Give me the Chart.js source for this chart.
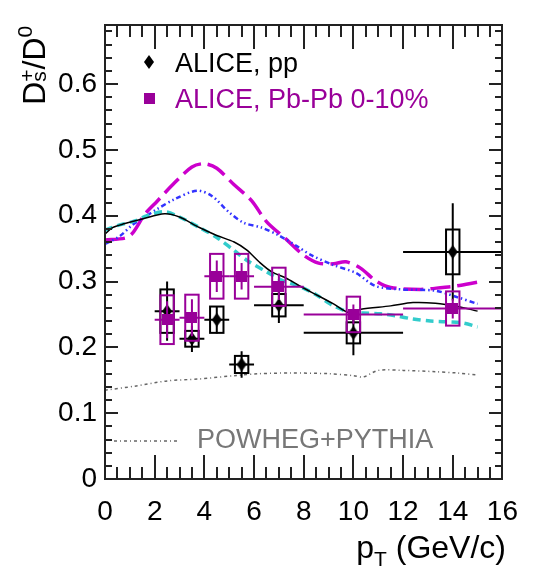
<!DOCTYPE html>
<html>
<head>
<meta charset="utf-8">
<script src="https://cdn.jsdelivr.net/npm/chart.js@4.4.0/dist/chart.umd.min.js"></script>
<style>
  html, body { margin: 0; padding: 0; background: #fff; }
  #wrap { width: 534px; height: 569px; }
</style>
</head>
<body>
<div id="wrap"><canvas id="ratioChart" width="534" height="569"></canvas></div>
<script>
const FONT = "'Liberation Sans', Arial, Helvetica, sans-serif";

// pT bins (GeV/c)
const binCenters = [2.5, 3.5, 4.5, 5.5, 7, 10, 14];
const binLow = [2, 3, 4, 5, 6, 8, 12];
const binHigh = [3, 4, 5, 6, 8, 12, 16];

// ALICE pp
const ppRatio = [0.255, 0.213, 0.242, 0.174, 0.264, 0.222, 0.345];
const ppStat = [0.045, 0.020, 0.021, 0.020, 0.027, 0.034, 0.074];
const ppSyst = [0.033, 0.012, 0.020, 0.013, 0.017, 0.016, 0.034];

// ALICE Pb-Pb 0-10%
const pbRatio = [0.242, 0.245, 0.308, 0.308, 0.292, 0.250, 0.259];
const pbStat = [0.028, 0.028, 0.024, 0.020, 0.020, 0.015, 0.015];
const pbSyst = [0.037, 0.035, 0.034, 0.034, 0.029, 0.027, 0.026];

// model curves
const blackX = [0, 0.3, 0.8, 1.5, 2.4, 3.0, 3.8, 4.5, 5.2, 5.7, 6.2, 6.7, 7.3, 7.8, 8.3, 9.2, 9.8, 10.3, 11.5, 12.4, 13.3, 14.2, 15];
const blackY = [0.372, 0.382, 0.388, 0.395, 0.403, 0.398, 0.382, 0.370, 0.360, 0.348, 0.330, 0.315, 0.305, 0.294, 0.284, 0.266, 0.253, 0.258, 0.263, 0.268, 0.267, 0.262, 0.255];

const cyanX = [0, 0.5, 1.2, 1.7, 2.4, 3.0, 3.8, 4.5, 5.2, 5.8, 6.5, 7.1, 7.8, 8.5, 9.1, 9.8, 10.4, 11.1, 11.7, 12.4, 13.1, 13.7, 14.4, 15];
const cyanY = [0.378, 0.385, 0.392, 0.400, 0.406, 0.398, 0.382, 0.367, 0.347, 0.330, 0.315, 0.302, 0.293, 0.280, 0.265, 0.254, 0.252, 0.251, 0.248, 0.243, 0.240, 0.239, 0.237, 0.231];

const blueX = [0, 0.6, 1.1, 1.6, 2.1, 2.8, 3.7, 4.3, 5.0, 5.6, 6.3, 7.0, 7.8, 8.3, 9.2, 10.1, 10.9, 12.0, 13.3, 14.2, 15];
const blueY = [0.357, 0.369, 0.386, 0.398, 0.410, 0.425, 0.438, 0.430, 0.405, 0.389, 0.382, 0.370, 0.352, 0.340, 0.325, 0.313, 0.293, 0.288, 0.286, 0.276, 0.266];

const magentaX = [0, 0.8, 1.1, 1.6, 2.1, 2.8, 3.5, 4.0, 4.5, 5.2, 5.9, 6.5, 7.3, 8.0, 8.6, 9.2, 9.7, 10.3, 10.9, 11.5, 12.7, 13.6, 14.1, 15];
const magentaY = [0.363, 0.366, 0.373, 0.402, 0.422, 0.450, 0.474, 0.479, 0.472, 0.447, 0.423, 0.391, 0.364, 0.340, 0.328, 0.327, 0.330, 0.320, 0.301, 0.291, 0.288, 0.291, 0.293, 0.299];

const powhegX = [0, 1.2, 2.5, 3.8, 5.2, 6.2, 7.5, 9.0, 10.0, 10.4, 11.0, 12.0, 13.3, 14.2, 15];
const powhegY = [0.135, 0.141, 0.149, 0.152, 0.157, 0.160, 0.161, 0.160, 0.157, 0.155, 0.165, 0.165, 0.163, 0.161, 0.158];

const xTickStep = 2, xMinorStep = 0.5;
const yTickStep = 0.1, yMinorStep = 0.02;

const PURPLE = '#990099';
const BOX_HALF = 0.27; // half width of syst. boxes, in GeV/c

function toPoints(xs, ys) {
    return xs.map((x, i) => ({ x: x, y: ys[i] }));
}

// marker images
function makeDiamond() {
    const c = document.createElement('canvas');
    c.width = 10; c.height = 14;
    const g = c.getContext('2d');
    g.fillStyle = '#000';
    g.beginPath();
    g.moveTo(5, 0); g.lineTo(10, 7); g.lineTo(5, 14); g.lineTo(0, 7);
    g.closePath();
    g.fill();
    return c;
}
function makeSquare() {
    const c = document.createElement('canvas');
    c.width = 11; c.height = 11;
    const g = c.getContext('2d');
    g.fillStyle = PURPLE;
    g.fillRect(0, 0, 11, 11);
    return c;
}
const diamondImg = makeDiamond();
const squareImg = makeSquare();

function curve(xs, ys, color, width, dash) {
    return {
        type: 'line',
        data: toPoints(xs, ys),
        borderColor: color,
        borderWidth: width,
        borderDash: dash,
        pointRadius: 0,
        tension: 0.3,
        fill: false
    };
}

// error bars + syst boxes, drawn right before each data set's markers
const errorPlugin = {
    id: 'errors',
    beforeDatasetDraw(chart, args) {
        const ds = chart.data.datasets[args.index];
        if (!ds.err) return;
        const e = ds.err;
        const xs = chart.scales.x, ys = chart.scales.y;
        const ctx = chart.ctx;
        ctx.save();
        ctx.setLineDash([]);
        ctx.strokeStyle = e.color;
        ctx.lineWidth = 2;
        for (let i = 0; i < binCenters.length; i++) {
            const xc = xs.getPixelForValue(binCenters[i]);
            const yc = ys.getPixelForValue(e.val[i]);
            // syst box
            const bx0 = xs.getPixelForValue(binCenters[i] - BOX_HALF);
            const bx1 = xs.getPixelForValue(binCenters[i] + BOX_HALF);
            const by0 = ys.getPixelForValue(e.val[i] + e.syst[i]);
            const by1 = ys.getPixelForValue(e.val[i] - e.syst[i]);
            ctx.strokeRect(bx0, by0, bx1 - bx0, by1 - by0);
            // horizontal bin width
            ctx.beginPath();
            ctx.moveTo(xs.getPixelForValue(binLow[i]), yc);
            ctx.lineTo(xs.getPixelForValue(binHigh[i]), yc);
            // stat bar
            ctx.moveTo(xc, ys.getPixelForValue(e.val[i] + e.stat[i]));
            ctx.lineTo(xc, ys.getPixelForValue(e.val[i] - e.stat[i]));
            ctx.stroke();
        }
        ctx.restore();
    }
};

// ROOT-like frame, inner ticks, titles and legend
const framePlugin = {
    id: 'frame',
    afterDraw(chart) {
        const ctx = chart.ctx;
        const a = chart.chartArea;
        const xs = chart.scales.x, ys = chart.scales.y;
        const L = Math.round(a.left), R = Math.round(a.right);
        const T = Math.round(a.top), B = Math.round(a.bottom);
        const W = 2; // line thickness
        ctx.save();
        ctx.setLineDash([]);
        ctx.fillStyle = '#222';
        // frame
        ctx.fillRect(L - 1, T - 1, R - L + W, W);
        ctx.fillRect(L - 1, B - 1, R - L + W, W);
        ctx.fillRect(L - 1, T - 1, W, B - T + W);
        ctx.fillRect(R - 1, T - 1, W, B - T + W);
        // x ticks, bottom and top
        for (let v = 0; v <= 16 + 1e-9; v += xMinorStep) {
            const major = Math.abs(v / xTickStep - Math.round(v / xTickStep)) < 1e-6;
            const len = major ? 24 : 12;
            const px = Math.round(xs.getPixelForValue(v));
            ctx.fillRect(px - 1, B - len, W, len);
            ctx.fillRect(px - 1, T, W, len);
        }
        // y ticks, left and right
        for (let v = 0; v <= 0.69 + 1e-9; v += yMinorStep) {
            const major = Math.abs(v / yTickStep - Math.round(v / yTickStep)) < 1e-6;
            const len = major ? 13 : 7;
            const py = Math.round(ys.getPixelForValue(v));
            ctx.fillRect(L, py - 1, len, W);
            ctx.fillRect(R - len, py - 1, len, W);
        }

        // y title  D_s^+/D^0
        ctx.fillStyle = '#000';
        ctx.textBaseline = 'alphabetic';
        const big = '32px ' + FONT, small = '21px ' + FONT;
        ctx.font = big;
        const wD = ctx.measureText('D').width;
        const wSlashD = ctx.measureText('/D').width;
        ctx.font = small;
        const wSub = Math.max(ctx.measureText('s').width, ctx.measureText('+').width);
        const w0 = ctx.measureText('0').width;
        const total = wD + wSub + wSlashD + w0;
        ctx.translate(45, a.top + 1);
        ctx.rotate(-Math.PI / 2);
        let cx = -total;
        ctx.font = big; ctx.fillText('D', cx, 0); cx += wD;
        ctx.font = small;
        ctx.fillText('s', cx, 1);
        ctx.fillText('+', cx, -11);
        cx += wSub;
        ctx.font = big; ctx.fillText('/D', cx, 0); cx += wSlashD;
        ctx.font = small; ctx.fillText('0', cx, -13);
        ctx.setTransform(1, 0, 0, 1, 0, 0);

        // x title  p_T (GeV/c)
        ctx.font = big;
        const wp = ctx.measureText('p').width;
        const wRest = ctx.measureText(' (GeV/c)').width;
        ctx.font = small;
        const wT = ctx.measureText('T').width;
        let x0 = 506 - (wp + wT + wRest);
        const base = 558;
        ctx.font = big; ctx.fillText('p', x0, base); x0 += wp;
        ctx.font = small; ctx.fillText('T', x0, base + 8); x0 += wT;
        ctx.font = big; ctx.fillText(' (GeV/c)', x0, base);

        // legend
        ctx.font = '27px ' + FONT;
        ctx.drawImage(diamondImg, 144, 55);
        ctx.fillStyle = '#000';
        ctx.fillText('ALICE, pp', 175, 72);
        ctx.drawImage(squareImg, 144, 93);
        ctx.fillStyle = PURPLE;
        ctx.fillText('ALICE, Pb-Pb 0-10%', 175, 108);

        ctx.strokeStyle = '#666';
        ctx.lineWidth = 1.5;
        ctx.setLineDash([3, 3, 1, 3]);
        ctx.beginPath();
        ctx.moveTo(114, 441); ctx.lineTo(179, 441);
        ctx.stroke();
        ctx.setLineDash([]);
        ctx.fillStyle = '#777';
        ctx.fillText('POWHEG+PYTHIA', 197, 448);
        ctx.restore();
    }
};

const ctx = document.getElementById('ratioChart').getContext('2d');

new Chart(ctx, {
    data: {
        datasets: [
            {
                type: 'scatter',
                label: 'ALICE, Pb-Pb 0-10%',
                data: toPoints(binCenters, pbRatio),
                pointStyle: squareImg,
                err: { val: pbRatio, stat: pbStat, syst: pbSyst, color: PURPLE }
            },
            {
                type: 'scatter',
                label: 'ALICE, pp',
                data: toPoints(binCenters, ppRatio),
                pointStyle: diamondImg,
                err: { val: ppRatio, stat: ppStat, syst: ppSyst, color: '#000' }
            },
            curve(blackX, blackY, '#000', 1.5, []),
            curve(cyanX, cyanY, '#33cccc', 3.5, [8, 5]),
            curve(blueX, blueY, '#3333ff', 2.5, [5, 3, 1.5, 3, 1.5, 3]),
            curve(magentaX, magentaY, '#cc00cc', 3.5, [20, 7]),
            curve(powhegX, powhegY, '#666', 1.5, [3, 3, 1, 3])
        ]
    },
    options: {
        responsive: false,
        animation: false,
        layout: { padding: { top: 7, right: 15, left: 0, bottom: 0 } },
        plugins: { legend: { display: false }, tooltip: { enabled: false } },
        scales: {
            x: {
                type: 'linear',
                min: 0, max: 16,
                grid: { display: false, drawTicks: false },
                border: { display: false },
                ticks: {
                    stepSize: xTickStep, includeBounds: false, autoSkip: false, maxRotation: 0,
                    color: '#000', padding: 16, font: { family: FONT, size: 28 }
                },
                afterFit(scale) { scale.height = 90; }
            },
            y: {
                type: 'linear',
                min: 0, max: 0.69,
                grid: { display: false, drawTicks: false },
                border: { display: false },
                ticks: {
                    stepSize: yTickStep, includeBounds: false, color: '#000', padding: 8,
                    font: { family: FONT, size: 28 },
                    callback: v => (v === 0 ? '0' : v.toFixed(1))
                },
                afterFit(scale) { scale.width = 105; }
            }
        }
    },
    plugins: [errorPlugin, framePlugin]
});
</script>
</body>
</html>
